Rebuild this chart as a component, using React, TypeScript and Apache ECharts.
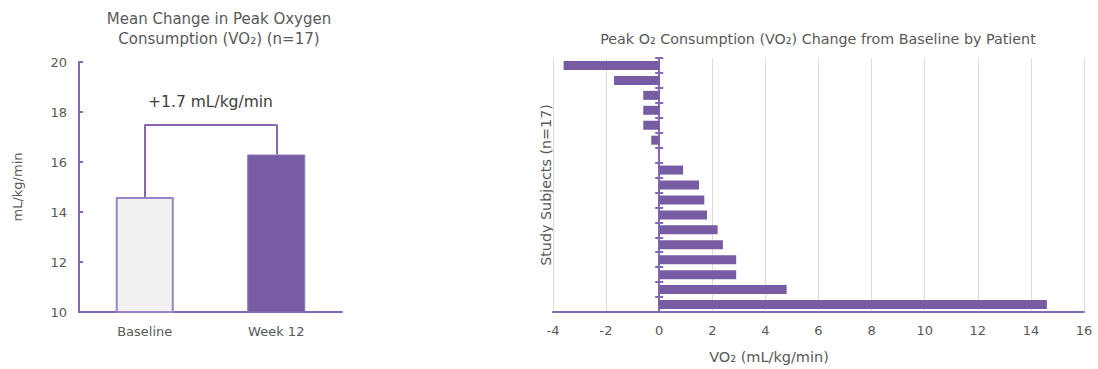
import React, { useEffect, useRef } from "react";
import * as echarts from "echarts";

const meanCategories = ["Baseline", "Week 12"];
const meanValues = [14.6, 16.3];
const bracketTop = 17.5;
const changeLabel = "+1.7 mL/kg/min";
const leftTicks = { min: 10, max: 20, interval: 2 };

const subjects = Array.from({ length: 17 }, (_, i) => `S${i + 1}`);
const changeValues = [-3.6, -1.7, -0.6, -0.6, -0.6, -0.3, 0, 0.9, 1.5, 1.7, 1.8, 2.2, 2.4, 2.9, 2.9, 4.8, 14.6];
const rightTicks = { min: -4, max: 16, interval: 2 };

const PURPLE = "#775ca4";
const AXIS = "#8468b4";
const TEXT = "#595959";
const FONT = "DejaVu Sans";

export default function App() {
  const ref = useRef<HTMLDivElement>(null);
  useEffect(() => {
    document.body.style.margin = "0";
    if (!ref.current) return;
    const chart = echarts.init(ref.current, null, { renderer: "svg" });
    const option: any = {
      animation: false,
      textStyle: { fontFamily: FONT, color: TEXT },
      title: [
        {
          text: "Mean Change in Peak Oxygen\nConsumption (VO₂) (n=17)",
          left: 214,
          top: 4,
          textAlign: "center",
          textStyle: { fontFamily: FONT, fontSize: 15, fontWeight: "normal", color: TEXT, lineHeight: 20 },
        },
        {
          text: "Peak O₂ Consumption (VO₂) Change from Baseline by Patient",
          left: 813,
          top: 27,
          textAlign: "center",
          textStyle: { fontFamily: FONT, fontSize: 14.3, fontWeight: "normal", color: TEXT },
        },
      ],
      grid: [
        { left: 79, right: 756, top: 62, bottom: 57 },
        { left: 553, right: 14, top: 58, bottom: 57 },
      ],
      xAxis: [
        {
          type: "category",
          gridIndex: 0,
          data: meanCategories,
          axisLine: { lineStyle: { color: AXIS, width: 2 } },
          axisTick: { show: false },
          axisLabel: { color: TEXT, fontSize: 13, margin: 13, fontFamily: FONT },
        },
        {
          type: "value",
          gridIndex: 1,
          min: rightTicks.min,
          max: rightTicks.max,
          interval: rightTicks.interval,
          axisLine: { show: true, onZero: false, lineStyle: { color: AXIS, width: 2 } },
          axisTick: { show: false },
          splitLine: { show: true, lineStyle: { color: "#dcdcdc", width: 1 } },
          axisLabel: { color: TEXT, fontSize: 13, margin: 12, fontFamily: FONT },
        },
        {
          type: "value",
          gridIndex: 1,
          show: false,
          min: rightTicks.min,
          max: rightTicks.max,
          interval: rightTicks.interval,
          splitLine: { show: false },
        },
      ],
      yAxis: [
        {
          type: "value",
          gridIndex: 0,
          min: leftTicks.min,
          max: leftTicks.max,
          interval: leftTicks.interval,
          name: "mL/kg/min",
          nameLocation: "middle",
          nameGap: 55,
          nameTextStyle: { color: TEXT, fontSize: 13, fontFamily: FONT },
          axisLine: { show: true, lineStyle: { color: AXIS, width: 2 } },
          axisTick: { show: true, inside: true, length: 4, lineStyle: { color: AXIS, width: 2 } },
          splitLine: { show: false },
          axisLabel: { color: TEXT, fontSize: 13, margin: 12, fontFamily: FONT },
        },
        {
          type: "category",
          gridIndex: 1,
          data: subjects,
          inverse: true,
          position: "left",
          axisLine: { show: true, onZero: true, onZeroAxisIndex: 1, lineStyle: { color: AXIS, width: 2 } },
          axisTick: { show: true, inside: true, interval: 0, length: 4, lineStyle: { color: AXIS, width: 2 } },
          axisLabel: { show: false },
        },
        {
          type: "category",
          gridIndex: 1,
          data: subjects,
          inverse: true,
          position: "left",
          axisLine: { show: false, onZero: true, onZeroAxisIndex: 2 },
          axisTick: { show: true, inside: false, interval: 0, length: 4, lineStyle: { color: AXIS, width: 2 } },
          axisLabel: { show: false },
        },
      ],
      graphic: [
        {
          type: "text",
          x: 546,
          y: 185,
          rotation: Math.PI / 2,
          style: {
            text: "Study Subjects (n=17)",
            fill: TEXT,
            font: `14.3px "${FONT}"`,
            align: "center",
            verticalAlign: "middle",
          },
        },
        {
          type: "text",
          x: 769,
          y: 357,
          style: {
            text: "VO₂ (mL/kg/min)",
            fill: TEXT,
            font: `14.5px "${FONT}"`,
            align: "center",
            verticalAlign: "middle",
          },
        },
      ],
      series: [
        {
          type: "bar",
          xAxisIndex: 0,
          yAxisIndex: 0,
          barWidth: 58,
          data: meanValues.map((v, i) => ({
            value: v,
            itemStyle:
              i === 0
                ? { color: "#f1f1f1", borderColor: "#9b84c6", borderWidth: 2 }
                : { color: PURPLE, borderColor: "#8c72bb", borderWidth: 1 },
          })),
          markLine: {
            symbol: "none",
            silent: true,
            lineStyle: { color: AXIS, width: 2, type: "solid" },
            label: { show: false },
            data: [
              [{ coord: [meanCategories[0], meanValues[0]] }, { coord: [meanCategories[0], bracketTop] }],
              [{ coord: [meanCategories[1], meanValues[1]] }, { coord: [meanCategories[1], bracketTop] }],
              [
                {
                  coord: [meanCategories[0], bracketTop],
                  label: {
                    show: true,
                    position: "insideMiddleTop",
                    formatter: changeLabel,
                    color: "#404040",
                    fontSize: 15.5,
                    fontFamily: FONT,
                    distance: 15,
                  },
                },
                { coord: [meanCategories[1], bracketTop] },
              ],
            ],
          },
        },
        {
          type: "bar",
          xAxisIndex: 1,
          yAxisIndex: 1,
          barWidth: 9,
          itemStyle: { color: PURPLE },
          data: changeValues,
        },
      ],
    };
    chart.setOption(option);
    return () => chart.dispose();
  }, []);
  return <div ref={ref} style={{ width: 1098, height: 369 }} />;
}
